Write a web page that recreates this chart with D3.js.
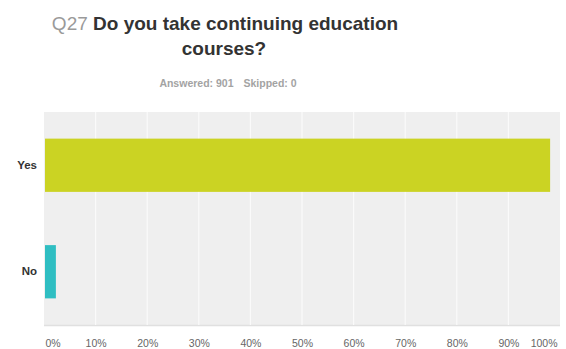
<!DOCTYPE html>
<html>
<head>
<meta charset="utf-8">
<script src="https://cdn.jsdelivr.net/npm/d3@7"></script>
<style>
  html, body { margin: 0; padding: 0; background: #fff; }
  svg { display: block; font-family: "Liberation Sans", Arial, sans-serif; }
</style>
</head>
<body>
<svg id="chart" width="566" height="349"></svg>
<script>
// Survey responses (share of respondents, %)
const categories = ["Yes", "No"];
const values = [97.89, 2.11];
const colors = ["#cbd323", "#2fbec2"];
const tickValues = [0, 10, 20, 30, 40, 50, 60, 70, 80, 90, 100];
const tickLabels = ["0%", "10%", "20%", "30%", "40%", "50%", "60%", "70%", "80%", "90%", "100%"];
const questionNumber = "Q27";
const questionLines = ["Do you take continuing education", "courses?"];
const answered = 901;
const skipped = 0;

const svg = d3.select("#chart");
const plot = { left: 44, right: 560, top: 112, bottom: 325 };

const x = d3.scaleLinear().domain([0, 100]).range([plot.left, plot.right]);
const y = d3.scaleBand().domain(categories).range([plot.top, plot.bottom]).paddingInner(0.5).paddingOuter(0.25);

// Title
const title = svg.append("text")
  .attr("x", 225).attr("y", 30)
  .attr("text-anchor", "middle")
  .attr("font-size", 19);
title.append("tspan").attr("fill", "#9a9a9a").text(questionNumber + " ");
title.append("tspan").attr("fill", "#333").attr("font-weight", "bold").text(questionLines[0]);
svg.append("text")
  .attr("x", 224).attr("y", 55)
  .attr("text-anchor", "middle")
  .attr("font-size", 19).attr("font-weight", "bold").attr("fill", "#333")
  .text(questionLines[1]);

// Answered / skipped counts
const sub = svg.append("text")
  .attr("x", 228).attr("y", 87)
  .attr("text-anchor", "middle")
  .attr("font-size", 10.5).attr("font-weight", "bold").attr("fill", "#a3a3a3");
sub.append("tspan").text("Answered: " + answered);
sub.append("tspan").attr("dx", 10).text("Skipped: " + skipped);

// Plot background
svg.append("rect")
  .attr("x", plot.left).attr("y", plot.top)
  .attr("width", plot.right - plot.left).attr("height", plot.bottom - plot.top)
  .attr("fill", "#efefef");
svg.append("line")
  .attr("x1", plot.left).attr("x2", plot.right)
  .attr("y1", plot.bottom + 0.5).attr("y2", plot.bottom + 0.5)
  .attr("stroke", "#e0e0e0").attr("stroke-width", 1.5);

// Vertical grid lines
svg.append("g")
  .selectAll("line")
  .data(tickValues.slice(1, -1))
  .join("line")
  .attr("x1", d => x(d)).attr("x2", d => x(d))
  .attr("y1", plot.top).attr("y2", plot.bottom)
  .attr("stroke", "#fafafa").attr("stroke-width", 1.2);

// Bars
svg.append("g")
  .selectAll("rect")
  .data(categories)
  .join("rect")
  .attr("x", x(0) + 1)
  .attr("y", d => y(d))
  .attr("width", (d, i) => x(values[i]) - x(0))
  .attr("height", y.bandwidth())
  .attr("fill", (d, i) => colors[i]);

// Category axis
const yAxis = svg.append("g")
  .attr("transform", `translate(${plot.left - 7},0)`)
  .call(d3.axisLeft(y).tickSize(0).tickPadding(0));
yAxis.select(".domain").remove();
yAxis.selectAll("text")
  .attr("font-family", "Liberation Sans, Arial, sans-serif")
  .attr("font-size", 11.5).attr("font-weight", "bold").attr("fill", "#333");

// Percentage axis
const xAxis = svg.append("g")
  .attr("transform", `translate(0,${plot.bottom})`)
  .call(d3.axisBottom(x).tickValues(tickValues)
    .tickFormat((d, i) => tickLabels[i]).tickSize(0).tickPadding(15));
xAxis.select(".domain").remove();
xAxis.selectAll("text")
  .attr("font-family", "Liberation Sans, Arial, sans-serif")
  .attr("font-size", 10.5).attr("fill", "#666")
  .attr("text-anchor", (d, i) => i === 0 ? "start" : (i === tickValues.length - 1 ? "end" : "middle"))
  .attr("dx", (d, i) => i === 0 ? 1 : (i === tickValues.length - 1 ? -3 : 0));
</script>
</body>
</html>
